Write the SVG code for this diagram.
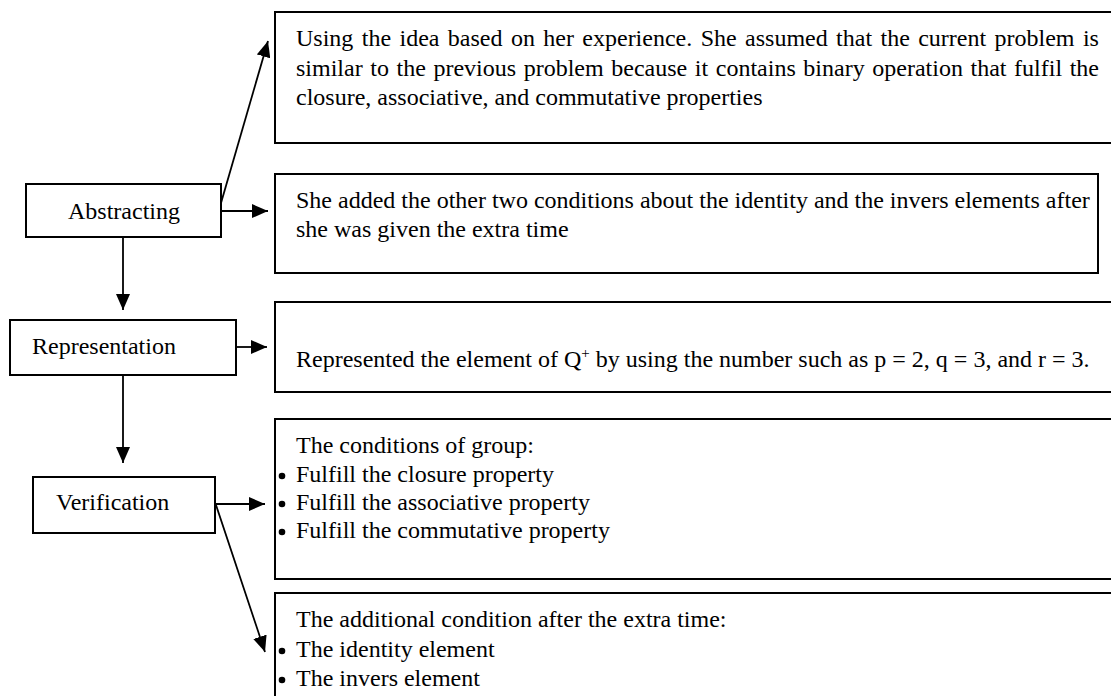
<svg xmlns="http://www.w3.org/2000/svg" width="1111" height="696" viewBox="0 0 1111 696">
<style>
.box{fill:#fff;stroke:#000;stroke-width:2}
.t{font-family:"Liberation Serif","Times New Roman",serif;font-size:24px;fill:#000}
.c{stroke:#000;stroke-width:1.8;fill:none}
.b{fill:#000}
</style>
<defs>
<marker id="ah" viewBox="0 0 16 14" refX="16" refY="7" markerWidth="16" markerHeight="14" markerUnits="userSpaceOnUse" orient="auto">
<path d="M0,0 L16,7 L0,14 z" fill="#000"/>
</marker>
</defs>
<rect width="1111" height="696" fill="#fff"/>
<g id="connectors">
<line class="c" x1="221" y1="203" x2="268" y2="41" marker-end="url(#ah)"/>
<line class="c" x1="221" y1="211" x2="268" y2="211" marker-end="url(#ah)"/>
<line class="c" x1="123" y1="237" x2="123" y2="310" marker-end="url(#ah)"/>
<line class="c" x1="236" y1="347" x2="267" y2="347" marker-end="url(#ah)"/>
<line class="c" x1="123" y1="375" x2="123" y2="463" marker-end="url(#ah)"/>
<line class="c" x1="215" y1="504" x2="265" y2="504" marker-end="url(#ah)"/>
<line class="c" x1="216" y1="505" x2="265" y2="652" marker-end="url(#ah)"/>
</g>
<g id="abstracting">
<rect class="box" x="26" y="184" width="195" height="53"/>
<text class="t" x="68" y="219">Abstracting</text>
</g>
<g id="representation">
<rect class="box" x="10" y="320" width="226" height="55"/>
<text class="t" x="32" y="354">Representation</text>
</g>
<g id="verification">
<rect class="box" x="33" y="477" width="182" height="56"/>
<text class="t" x="56" y="510">Verification</text>
</g>
<g id="experience">
<rect class="box" x="275" y="12" width="850" height="131"/>
<text class="t" x="296" y="46" word-spacing="2.4">Using the idea based on her experience. She assumed that the current problem is</text>
<text class="t" x="296" y="76" word-spacing="1.6">similar to the previous problem because it contains binary operation that fulfil the</text>
<text class="t" x="296" y="105">closure, associative, and commutative properties</text>
</g>
<g id="added">
<rect class="box" x="275" y="174" width="823" height="99"/>
<text class="t" x="296" y="208">She added the other two conditions about the identity and the invers elements after</text>
<text class="t" x="296" y="237">she was given the extra time</text>
</g>
<g id="represented">
<rect class="box" x="275" y="302" width="850" height="90"/>
<text class="t" x="296" y="367">Represented the element of Q<tspan font-size="15" dy="-9">+</tspan><tspan dy="9"> by using the number such as p = 2, q = 3, and r = 3.</tspan></text>
</g>
<g id="conditions">
<rect class="box" x="275" y="419" width="850" height="160"/>
<text class="t" x="296" y="453">The conditions of group:</text>
<circle class="b" cx="282" cy="476" r="3.3"/>
<text class="t" x="296" y="482">Fulfill the closure property</text>
<circle class="b" cx="282" cy="504" r="3.3"/>
<text class="t" x="296" y="510">Fulfill the associative property</text>
<circle class="b" cx="282" cy="532" r="3.3"/>
<text class="t" x="296" y="538">Fulfill the commutative property</text>
</g>
<g id="additional">
<rect class="box" x="275" y="593" width="850" height="120"/>
<text class="t" x="296" y="627">The additional condition after the extra time:</text>
<circle class="b" cx="282" cy="651" r="3.3"/>
<text class="t" x="296" y="657">The identity element</text>
<circle class="b" cx="282" cy="680" r="3.3"/>
<text class="t" x="296" y="686">The invers element</text>
</g>
</svg>
